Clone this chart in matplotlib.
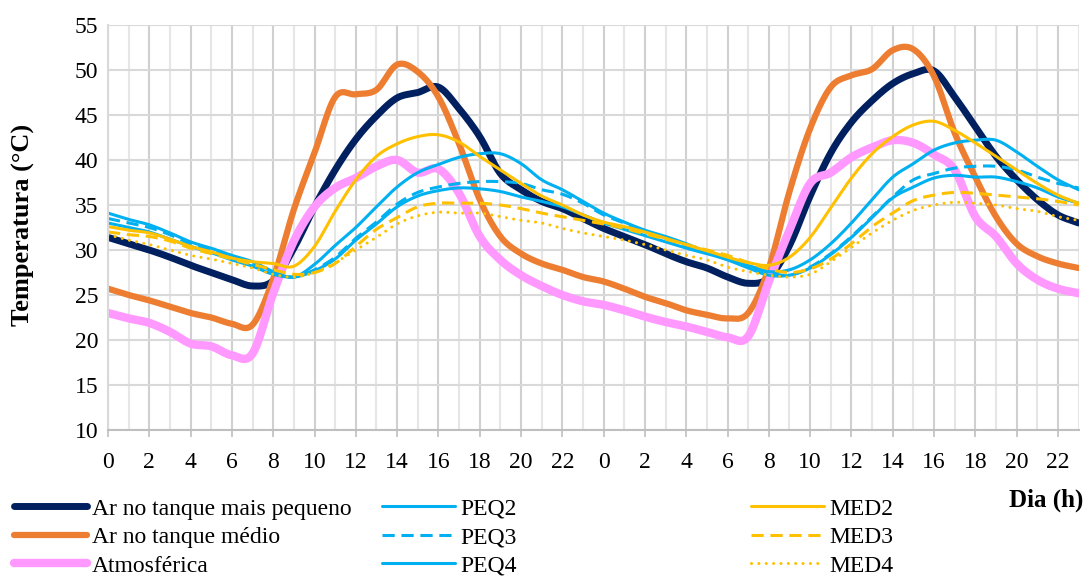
import numpy as np
import matplotlib.pyplot as plt

plt.rcParams['font.family'] = ['Liberation Serif', 'DejaVu Serif']

# two consecutive days, hourly readings
hours = list(range(24)) * 2

ar_pequeno = [31.4, 30.7, 30.0, 29.2, 28.3, 27.5, 26.7, 26.0, 26.6, 30.2, 34.8, 38.9, 42.3, 44.9, 46.9, 47.5, 48.1, 45.7, 42.6, 38.5, 36.7, 35.4, 34.6, 33.5,
              32.4, 31.5, 30.6, 29.6, 28.7, 28.0, 27.0, 26.3, 26.9, 30.5, 36.0, 40.8, 44.2, 46.6, 48.5, 49.6, 49.9, 47.0, 43.7, 40.4, 37.8, 35.6, 33.9, 33.0]
ar_medio = [25.7, 25.0, 24.4, 23.7, 23.0, 22.5, 21.8, 21.7, 26.8, 34.5, 40.8, 47.0, 47.3, 47.8, 50.6, 49.8, 47.0, 41.8, 35.6, 31.5, 29.6, 28.5, 27.8, 27.0,
            26.5, 25.7, 24.8, 24.1, 23.3, 22.8, 22.4, 23.0, 28.0, 36.5, 43.5, 48.1, 49.4, 50.1, 52.2, 52.3, 49.3, 43.0, 38.1, 33.7, 30.7, 29.3, 28.5, 28.0]
atmosferica = [23.0, 22.4, 21.9, 20.9, 19.6, 19.3, 18.3, 18.5, 25.2, 31.0, 34.8, 36.9, 38.0, 39.3, 40.0, 38.6, 39.0, 36.3, 31.5, 28.9, 27.2, 26.0, 25.0, 24.3,
               23.9, 23.3, 22.6, 22.0, 21.5, 20.9, 20.3, 20.4, 26.5, 32.2, 37.4, 38.6, 40.3, 41.4, 42.2, 41.9, 40.6, 38.9, 33.7, 31.5, 28.5, 26.7, 25.7, 25.2]
peq2 = [34.1, 33.4, 32.8, 31.9, 30.9, 30.2, 29.4, 28.7, 27.6, 27.0, 28.4, 30.5, 32.5, 34.8, 37.0, 38.6, 39.5, 40.3, 40.7, 40.7, 39.6, 37.8, 36.7, 35.4,
        34.1, 33.1, 32.2, 31.5, 30.7, 29.8, 29.1, 28.3, 27.6, 27.8, 28.9, 30.7, 33.0, 35.6, 38.1, 39.6, 41.1, 41.9, 42.2, 42.2, 40.9, 39.3, 37.8, 36.7]
peq3 = [33.5, 33.0, 32.5, 31.7, 30.7, 30.0, 29.2, 28.4, 27.4, 27.0, 27.8, 29.2, 31.3, 33.1, 35.1, 36.4, 37.0, 37.4, 37.6, 37.6, 37.4, 36.7, 36.2, 35.2,
        33.9, 33.0, 32.1, 31.3, 30.5, 29.7, 29.0, 28.3, 27.5, 27.2, 28.1, 29.6, 31.5, 33.7, 35.9, 37.8, 38.5, 39.1, 39.3, 39.3, 38.9, 38.1, 37.4, 36.9]
peq4 = [33.0, 32.5, 32.0, 31.2, 30.4, 29.7, 28.9, 28.2, 27.3, 27.0, 27.7, 29.0, 31.1, 32.9, 34.8, 36.0, 36.6, 36.9, 36.8, 36.5, 35.9, 35.4, 34.8, 33.9,
        33.0, 32.3, 31.6, 30.9, 30.2, 29.6, 28.9, 28.0, 27.2, 27.2, 28.0, 29.5, 31.4, 33.6, 35.8, 37.0, 38.0, 38.3, 38.1, 38.1, 37.6, 36.9, 35.9, 35.2]
med2 = [32.6, 32.2, 31.9, 31.2, 30.4, 29.8, 29.1, 28.7, 28.5, 28.2, 30.4, 34.3, 37.8, 40.4, 41.8, 42.6, 42.8, 42.0, 40.4, 38.9, 37.4, 36.0, 35.0, 33.9,
        33.1, 32.6, 32.0, 31.3, 30.6, 29.9, 29.2, 28.6, 28.3, 29.2, 31.4, 34.7, 38.0, 40.7, 42.6, 43.9, 44.3, 43.3, 41.9, 40.4, 38.9, 37.4, 36.1, 35.2]
med3 = [32.0, 31.7, 31.5, 31.0, 30.2, 29.6, 29.0, 28.4, 27.8, 27.3, 27.5, 28.5, 30.4, 32.3, 33.6, 34.8, 35.2, 35.2, 35.2, 35.0, 34.6, 34.1, 33.7, 33.3,
        32.9, 32.4, 31.8, 31.2, 30.6, 30.0, 29.4, 28.6, 27.9, 27.5, 27.9, 29.0, 30.7, 32.6, 34.1, 35.5, 36.1, 36.4, 36.3, 36.1, 35.9, 35.7, 35.4, 35.0]
med4 = [31.7, 31.1, 30.6, 30.0, 29.4, 29.0, 28.5, 28.0, 27.3, 27.0, 27.5, 28.6, 30.0, 31.4, 32.9, 33.8, 34.2, 34.1, 34.1, 33.7, 33.3, 33.0, 32.4, 31.9,
        31.5, 31.1, 30.6, 30.0, 29.4, 28.9, 28.1, 27.6, 27.2, 27.0, 27.3, 28.7, 30.3, 31.9, 33.3, 34.4, 35.0, 35.3, 35.2, 35.0, 34.6, 34.3, 33.7, 33.3]

NAVY, ORANGE, PINK = '#002060', '#ED7D31', '#FF99FF'
BLUE, GOLD = '#00B0F0', '#FFC000'
DASH = dict(dashes=(4.0, 2.2))
DOT = dict(dashes=(0.01, 2.4), dash_capstyle='round')

series = [
    ('Ar no tanque mais pequeno', ar_pequeno, NAVY, 5.0, {}),
    ('Ar no tanque médio', ar_medio, ORANGE, 4.5, {}),
    ('Atmosférica', atmosferica, PINK, 6.0, {}),
    ('PEQ2', peq2, BLUE, 2.2, {}),
    ('PEQ3', peq3, BLUE, 2.2, DASH),
    ('PEQ4', peq4, BLUE, 2.2, {}),
    ('MED2', med2, GOLD, 2.2, {}),
    ('MED3', med3, GOLD, 2.2, DASH),
    ('MED4', med4, GOLD, 2.2, DOT),
]


def smooth(values, steps=12):
    """Catmull-Rom curve through the hourly points (like Excel's smoothed line)."""
    y = np.asarray(values, float)
    p = np.concatenate([[2 * y[0] - y[1]], y, [2 * y[-1] - y[-2]]])
    t = np.linspace(0, 1, steps, endpoint=False)[:, None]
    p0, p1, p2, p3 = p[:-3], p[1:-2], p[2:-1], p[3:]
    seg = 0.5 * (2 * p1 + (p2 - p0) * t + (2 * p0 - 5 * p1 + 4 * p2 - p3) * t ** 2
                 + (3 * p1 - p0 - 3 * p2 + p3) * t ** 3)
    xs = (np.arange(len(y) - 1) + t).T.ravel()
    return np.append(xs, len(y) - 1), np.append(seg.T.ravel(), y[-1])


W, H = 1086, 583
AX_W = 1078.6 - 108
fig = plt.figure(figsize=(W / 100, H / 100), dpi=100)
ax = fig.add_axes([108 / W, 1 - 430 / H, AX_W / W, 405 / H])

lines = []
for label, values, color, lw, style in series:
    xs, ys = smooth(values)
    ln, = ax.plot(xs, ys, color=color, lw=lw, label=label,
                  solid_capstyle='round', solid_joinstyle='round', **style)
    lines.append(ln)

x = np.arange(len(hours))
ax.set_xlim(0, len(hours) - 1)
ax.set_ylim(10, 55)
ax.set_xticks(x[::2])
ax.set_xticklabels(hours[::2])
ax.set_xticks(x[1::2], minor=True)
ax.set_yticks(range(10, 56, 5))

ax.tick_params(axis='x', which='major', length=5, width=1.2, color='#BFBFBF',
               labelsize=17, pad=11)
ax.tick_params(axis='x', which='minor', length=0)
ax.tick_params(axis='y', length=0, labelsize=17, pad=7)

ax.grid(axis='y', color='#D9D9D9', lw=1.5)
ax.grid(axis='x', which='major', color='#D0D0D0', lw=1.5)
ax.grid(axis='x', which='minor', color='#E6E6E6', lw=1.5)
ax.set_axisbelow(True)

for side in ('top', 'right'):
    ax.spines[side].set_visible(False)
ax.spines['left'].set_color('#D9D9D9')
ax.spines['left'].set_linewidth(1.5)
ax.spines['bottom'].set_color('#BFBFBF')
ax.spines['bottom'].set_linewidth(1.5)

ax.set_ylabel('Temperatura (°C)', fontsize=19, fontweight='bold')
ax.yaxis.set_label_coords((35 - 108) / AX_W, 0.506)
fig.text(1083 / W, 1 - 500 / H, 'Dia (h)', ha='right', va='center',
         fontsize=18, fontweight='bold')

# legend split into three columns with their own left edges
for group, left in ((lines[0:3], 14), (lines[3:6], 382), (lines[6:9], 751)):
    fig.legend(handles=group, loc='upper left', bbox_to_anchor=(left / W, 1 - 498 / H),
               frameon=False, fontsize=17, handlelength=3.1, handletextpad=0.2,
               labelspacing=0.3, borderpad=0, borderaxespad=0)

fig.savefig('out.png', dpi=100)
